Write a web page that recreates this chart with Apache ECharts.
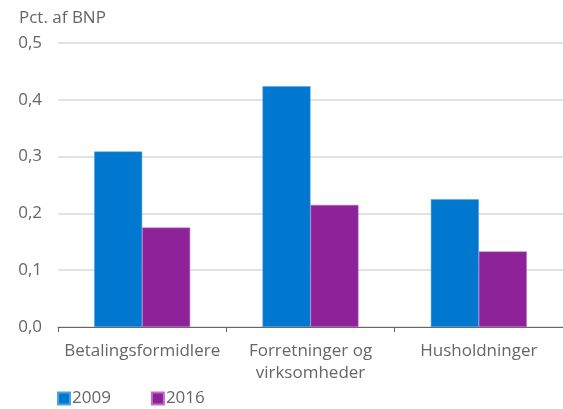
<!DOCTYPE html>
<html><head><meta charset="utf-8">
<script src="https://cdn.jsdelivr.net/npm/echarts@6/dist/echarts.min.js"></script>
<style>html,body{margin:0;padding:0;background:#fff}#c{width:563px;height:409px}</style>
</head><body><div id="c"></div>
<script>
const categories = ['Betalingsformidlere', 'Forretninger og\nvirksomheder', 'Husholdninger'];
const values2009 = [0.309, 0.424, 0.225];
const values2016 = [0.175, 0.215, 0.133];
const yTicks = [0, 0.1, 0.2, 0.3, 0.4, 0.5];
const font = '"Open Sans", sans-serif';
const chart = echarts.init(document.getElementById('c'), null, {renderer:'canvas'});
chart.setOption({
  animation:false,
  textStyle:{fontFamily:font},
  grid:{left:58,right:0,top:43,bottom:82},
  title:{text:'Pct. af BNP',left:14,top:5,textStyle:{fontSize:17,fontWeight:'normal',color:'#666',fontFamily:font}},
  legend:{left:52,bottom:-3,itemWidth:12,itemHeight:12,itemGap:40,icon:'rect',
    textStyle:{fontSize:17,color:'#666',fontFamily:font,padding:[0,0,0,-3]},data:['2009','2016']},
  xAxis:{type:'category',data:categories,
    axisLine:{lineStyle:{color:'#666',width:1}},
    axisTick:{show:true,length:5,lineStyle:{color:'#666'},alignWithLabel:false},
    axisLabel:{fontSize:17,color:'#666',lineHeight:22,margin:13,interval:0,fontFamily:font}},
  yAxis:{type:'value',min:0,max:0.5,interval:0.1,
    axisLine:{show:false},axisTick:{show:false},
    splitLine:{lineStyle:{color:'#d9d9d9',width:1.5}},
    axisLabel:{fontSize:17,color:'#666',margin:16,fontFamily:font,
      formatter:v=>v.toFixed(1).replace('.',',')}},
  series:[
    {name:'2009',type:'bar',data:values2009,barGap:'0%',barCategoryGap:'43%',
      itemStyle:{color:'#0078D0',borderColor:'#4aa3e3',borderWidth:0.5}},
    {name:'2016',type:'bar',data:values2016,
      itemStyle:{color:'#8E2299',borderColor:'#c070c8',borderWidth:0.5}}
  ]
});
</script></body></html>
